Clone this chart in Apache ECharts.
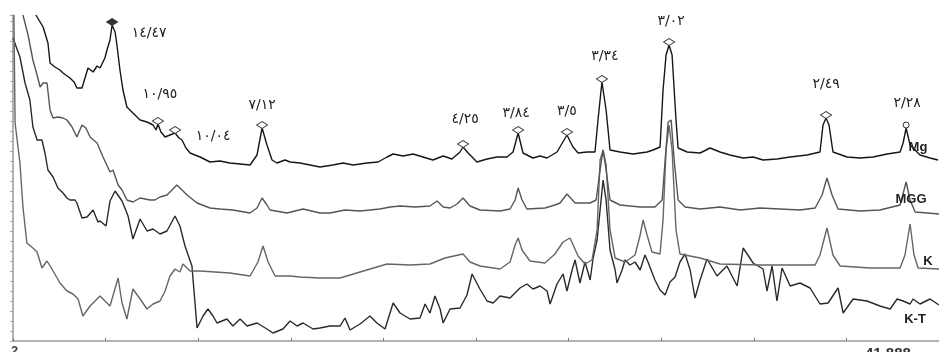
<!DOCTYPE html>
<html>
<head>
<meta charset="utf-8">
<script src="https://cdn.jsdelivr.net/npm/echarts@6/dist/echarts.min.js"></script>
<style>
  html, body { margin: 0; padding: 0; background: #fff; }
  #chart { width: 939px; height: 352px; }
</style>
</head>
<body>
<div id="chart"></div>
<script>
// XRD traces, [2theta, intensity (a.u.)]
const mgData = [
  [2.99,326],[3.12,321],[3.30,314],[3.51,298],[3.60,278],[3.81,274],[4.03,271],[4.16,268],[4.46,263],[4.64,259],
  [4.76,253],[4.98,253],[5.11,263],[5.24,273],[5.46,269],[5.63,275],[5.76,273],[5.97,283],[6.06,291],[6.19,301],
  [6.28,316],[6.41,309],[6.49,296],[6.62,271],[6.75,251],[6.92,234],[7.18,228],[7.49,221],[7.79,219],[8.05,216],
  [8.18,211],[8.26,217],[8.39,209],[8.57,204],[8.78,206],[9.00,208],[9.17,203],[9.30,201],[9.47,193],[9.65,188],
  [9.86,186],[10.08,184],[10.51,179],[10.94,180],[11.37,178],[11.81,177],[12.24,176],[12.54,186],[12.76,213],[12.97,196],
  [13.19,181],[13.40,178],[13.75,181],[13.97,179],[14.40,178],[14.83,176],[15.26,174],[15.82,176],[16.26,178],[16.69,176],
  [17.29,178],[17.77,179],[18.16,184],[18.42,187],[18.85,185],[19.28,187],[19.71,184],[20.14,181],[20.58,185],[20.96,182],
  [21.31,189],[21.44,194],[21.66,188],[22.04,179],[22.48,182],[22.91,184],[23.34,184],[23.60,189],[23.82,208],[24.03,188],
  [24.46,183],[24.77,185],[25.07,183],[25.50,189],[25.93,206],[26.19,194],[26.41,188],[26.80,189],[27.14,189],[27.27,221],
  [27.44,259],[27.62,231],[27.79,191],[28.22,189],[28.78,187],[29.39,189],[29.65,191],[29.95,194],[30.08,251],[30.21,286],
  [30.34,296],[30.47,286],[30.64,221],[30.73,193],[31.12,189],[31.68,188],[32.11,193],[32.54,189],[32.97,186],[33.54,183],
  [33.97,184],[34.40,181],[35.00,182],[35.57,184],[36.30,186],[36.86,189],[36.99,216],[37.12,223],[37.25,216],[37.42,189],
  [38.03,184],[38.59,183],[39.15,184],[39.76,187],[40.32,189],[40.45,198],[40.58,213],[40.75,196],[40.84,194],[41.18,186],
  [41.61,183],[41.96,181]
];
const mggData = [
  [2.43,326],[2.65,306],[2.86,281],[3.04,266],[3.17,254],[3.30,258],[3.47,258],[3.60,231],[3.73,223],[3.94,224],
  [4.16,223],[4.33,221],[4.55,214],[4.76,204],[4.98,216],[5.15,213],[5.33,204],[5.63,198],[5.89,184],[6.19,169],
  [6.32,171],[6.54,156],[6.71,151],[6.92,141],[7.18,139],[7.49,143],[7.92,141],[8.13,141],[8.35,144],[8.65,146],
  [8.87,151],[9.08,156],[9.30,151],[9.52,146],[9.95,138],[10.51,133],[10.94,132],[11.50,131],[12.24,128],[12.54,133],
  [12.76,143],[12.97,136],[13.10,131],[13.84,128],[14.53,132],[15.26,128],[15.69,128],[16.34,131],[16.99,130],[17.85,132],
  [18.29,134],[18.72,135],[19.37,134],[20.01,135],[20.32,140],[20.58,134],[20.88,133],[21.18,137],[21.44,143],[21.74,135],
  [22.17,131],[23.04,130],[23.47,132],[23.69,141],[23.82,153],[23.99,141],[24.20,132],[24.98,133],[25.41,136],[25.63,138],
  [25.93,147],[26.28,138],[26.93,138],[27.19,141],[27.36,171],[27.49,191],[27.62,171],[27.79,141],[28.22,136],[29.09,134],
  [29.73,134],[30.04,141],[30.17,181],[30.30,219],[30.43,221],[30.56,181],[30.73,141],[31.03,134],[31.68,132],[32.54,134],
  [33.41,131],[34.27,133],[35.13,132],[36.00,131],[36.65,133],[36.95,146],[37.16,163],[37.38,146],[37.64,132],[38.59,130],
  [39.45,131],[40.32,136],[40.58,159],[40.75,141],[40.97,129],[42.00,127]
];
const kData = [
  [2.04,326],[2.06,281],[2.09,218],[2.30,178],[2.43,134],[2.60,98],[2.86,93],[3.04,89],[3.25,73],[3.47,80],
  [3.68,72],[4.03,58],[4.33,50],[4.59,47],[4.81,42],[5.02,25],[5.33,35],[5.63,42],[5.76,45],[5.97,40],
  [6.19,35],[6.54,63],[6.71,38],[6.92,22],[7.18,52],[7.49,42],[7.79,32],[8.05,37],[8.35,40],[8.57,50],
  [8.78,65],[9.00,72],[9.21,69],[9.34,77],[9.65,70],[10.08,70],[10.73,69],[11.37,68],[12.24,65],[12.58,79],
  [12.80,95],[13.02,79],[13.32,65],[13.97,65],[14.40,64],[15.26,63],[16.13,63],[16.99,69],[18.16,77],[19.15,76],
  [20.01,77],[20.66,83],[21.44,87],[21.74,79],[22.17,75],[23.04,72],[23.47,79],[23.69,96],[23.82,103],[23.99,91],
  [24.33,80],[24.98,78],[25.41,87],[25.76,99],[26.06,103],[26.41,85],[26.71,77],[27.01,81],[27.23,111],[27.36,181],
  [27.49,191],[27.62,176],[27.79,111],[28.01,83],[28.44,79],[28.87,86],[29.09,106],[29.22,121],[29.39,106],[29.60,89],
  [29.95,87],[30.08,121],[30.21,191],[30.34,216],[30.47,191],[30.64,111],[30.81,87],[31.68,83],[32.54,77],[34.27,76],
  [36.00,76],[36.65,76],[36.86,86],[37.16,113],[37.42,86],[37.73,75],[39.02,73],[40.32,73],[40.53,86],[40.75,117],
  [40.92,86],[41.10,73],[42.00,72]
];
const ktData = [
  [2.00,303],[2.30,284],[2.52,258],[2.73,241],[2.86,214],[3.04,201],[3.25,201],[3.38,188],[3.51,171],[3.73,164],
  [3.94,153],[4.16,148],[4.33,143],[4.46,141],[4.68,141],[4.76,138],[4.98,123],[5.20,124],[5.46,131],[5.67,119],
  [5.76,120],[6.02,115],[6.19,140],[6.41,150],[6.71,140],[6.97,125],[7.18,102],[7.49,122],[7.79,110],[8.05,112],
  [8.35,107],[8.65,110],[9.00,125],[9.21,115],[9.43,95],[9.73,75],[9.95,13],[10.21,25],[10.42,32],[10.64,25],
  [10.81,18],[11.24,22],[11.50,15],[11.81,22],[12.11,15],[12.54,18],[12.97,12],[13.23,8],[13.66,12],[13.97,20],
  [14.27,15],[14.53,18],[14.96,12],[15.26,13],[15.69,15],[16.13,15],[16.34,23],[16.56,11],[16.99,17],[17.42,25],
  [17.72,18],[18.07,12],[18.42,38],[18.72,28],[19.15,22],[19.58,23],[19.80,37],[20.01,28],[20.23,45],[20.45,32],
  [20.58,18],[20.88,32],[21.31,33],[21.61,46],[21.83,67],[22.17,52],[22.48,40],[22.74,38],[23.04,45],[23.47,43],
  [23.90,53],[24.20,57],[24.46,52],[24.77,55],[25.07,50],[25.20,37],[25.50,57],[25.76,67],[25.93,50],[26.15,71],
  [26.28,81],[26.49,58],[26.71,79],[26.93,61],[27.06,83],[27.23,101],[27.36,131],[27.49,161],[27.62,141],[27.79,91],
  [28.01,71],[28.09,58],[28.31,71],[28.44,81],[28.65,76],[28.87,79],[29.09,71],[29.30,86],[29.43,79],[29.73,61],
  [29.95,51],[30.17,46],[30.38,59],[30.60,64],[30.81,79],[31.03,87],[31.25,71],[31.46,43],[31.68,61],[31.98,82],
  [32.41,65],[32.84,75],[33.28,55],[33.54,93],[33.97,78],[34.40,72],[34.57,50],[34.79,75],[35.00,40],[35.22,73],
  [35.57,55],[36.00,58],[36.43,53],[36.86,37],[37.21,38],[37.64,53],[37.86,28],[38.29,42],[38.89,40],[39.45,35],
  [39.89,32],[40.19,42],[40.45,40],[40.75,37],[40.88,42],[41.18,37],[41.61,42],[42.00,36]
];

// d-spacings (Å) marked on the Mg trace
const peakTheta = [6.28, 8.26, 9.00, 12.76, 21.44, 23.82, 25.93, 27.44, 30.34, 37.12, 40.58];
const peakLabels = ['١٤/٤٧', '١٠/٩٥', '١٠/٠٤', '٧/١٢', '٤/٢٥', '٣/٨٤', '٣/٥', '٣/٣٤', '٣/٠٢', '٢/٤٩', '٢/٢٨'];
const seriesNames = ['Mg', 'MGG', 'K', 'K-T'];
const xEndLabels = ['2', '41.888'];

const chart = echarts.init(document.getElementById('chart'));

// label placement next to each peak marker
const labelOffsets = [[37, 11], [2, -27], [38, 6], [0, -20], [2, -25], [-2, -17], [0, -21], [3, -23], [2, -21], [0, -31], [1, -22]];

function peakValue(data, x) {
  let best = data[0];
  data.forEach((p) => { if (Math.abs(p[0] - x) < Math.abs(best[0] - x)) best = p; });
  return best[1];
}

const markData = peakTheta.map((x, i) => ({
  coord: [x, peakValue(mgData, x)],
  symbol: i === 10 ? 'circle' : 'diamond',
  symbolSize: i === 10 ? 6 : [11, 7],
  itemStyle: i === 0 ? { color: '#333', borderColor: '#333' } : undefined,
  label: {
    show: true,
    formatter: peakLabels[i],
    position: 'inside',
    offset: labelOffsets[i],
  },
}));

const lineColors = ['#161616', '#555', '#666', '#2a2a2a'];
const allData = [mgData, mggData, kData, ktData];

const series = allData.map((d, i) => ({
  name: seriesNames[i],
  type: 'line',
  data: d,
  showSymbol: false,
  symbol: 'none',
  xAxisIndex: 0,
  lineStyle: { color: lineColors[i], width: 1.4 },
  z: 4 - i,
}));

series[0].markPoint = {
  symbolOffset: [0, -3],
  itemStyle: { color: '#fff', borderColor: '#333', borderWidth: 1 },
  label: {
    color: '#222',
    fontFamily: 'DejaVu Sans',
    fontSize: 14,
  },
  data: markData,
};

// curve name tags at the right edge
const namePos = [[918, 147], [911, 199], [928, 261], [915, 319]];

const option = {
  animation: false,
  backgroundColor: '#fff',
  grid: { left: 13, right: 0, top: 15, bottom: 11 },
  xAxis: [
    {
      type: 'value',
      min: 2,
      max: 42,
      axisLine: { show: true, lineStyle: { color: '#999', width: 1.5 } },
      axisTick: { show: false },
      axisLabel: { show: false },
      splitLine: { show: false },
    },
    {
      // tick marks every 4 deg, counted from the left edge
      type: 'value',
      min: 0,
      max: 40,
      interval: 4,
      position: 'bottom',
      axisLine: { show: false },
      axisTick: { show: true, inside: true, length: 3, lineStyle: { color: '#777' } },
      axisLabel: { show: false },
      splitLine: { show: false },
    },
  ],
  yAxis: {
    type: 'value',
    min: 0,
    max: 326,
    interval: 10,
    axisLine: { show: true, lineStyle: { color: '#999', width: 1.5 } },
    axisTick: { show: true, length: 3, lineStyle: { color: '#aaa' } },
    axisLabel: { show: false },
    splitLine: { show: false },
  },
  graphic: [
    ...seriesNames.map((n, i) => ({
      type: 'text',
      x: namePos[i][0],
      y: namePos[i][1],
      z: 100,
      style: {
        text: n,
        fill: '#222',
        font: 'bold 13px "Liberation Sans", Arial, sans-serif',
        textAlign: 'center',
        textVerticalAlign: 'middle',
      },
    })),
    {
      type: 'text', left: 11, top: 345,
      style: { text: xEndLabels[0], fill: '#444', font: 'bold 13px "Liberation Sans", Arial, sans-serif' },
    },
    {
      type: 'text', left: 865, top: 346,
      style: { text: xEndLabels[1], fill: '#333', font: 'bold 15px "Liberation Sans", Arial, sans-serif' },
    },
  ],
  series,
};

chart.setOption(option);
</script>
</body>
</html>
